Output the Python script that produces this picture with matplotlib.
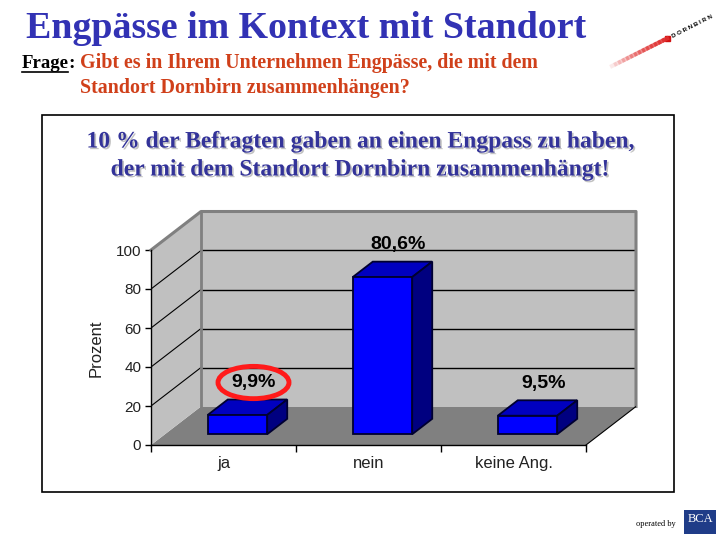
import matplotlib
matplotlib.use("Agg")
import matplotlib.pyplot as plt
import matplotlib.patheffects as pe
from matplotlib.patches import Polygon, Rectangle


categories = ["ja", "nein", "keine Ang."]
values = [9.9, 80.6, 9.5]
value_labels = ["9,9%", "80,6%", "9,5%"]
y_ticks = [0, 20, 40, 60, 80, 100]

W, H = 720, 540
PX_CAT = 145      # pixels per category on the front floor edge
PX_VAL = 1.95     # pixels per percent
DX = 50 / PX_CAT  # depth offset of the back wall, category units
DY = 38.5 / PX_VAL  # depth offset of the back wall, value units
BAR_W = 0.41
D0, D1 = 0.28, 0.68  # bar front / back depth

WALL = "#C0C0C0"
FLOOR = "#808080"
EDGE = "#808080"


def proj(x, y, d):
    """Oblique projection of a point (category, value, depth)."""
    return (x + d * DX, y + d * DY)


def px(x, y):
    """Pixel position -> figure fraction."""
    return x / W, 1 - y / H


plt.rcParams["font.family"] = ["Liberation Sans", "DejaVu Sans"]
fig = plt.figure(figsize=(W / 100, H / 100), dpi=100)

# slide header
serif = ["Liberation Serif", "DejaVu Serif"]
fig.text(*px(26, 28), "Engpässe im Kontext mit Standort", family=serif,
         fontsize=27.3, fontweight="bold", color="#3232B4", va="center")
fig.text(*px(22, 63), "Frage", family=serif, fontsize=13.5,
         fontweight="bold", color="black", va="center")
fig.add_artist(plt.Line2D([22 / W, 68 / W], [1 - 72 / H] * 2, color="black",
                          lw=1.2))
fig.text(*px(68.5, 63), ":", family=serif, fontsize=14, fontweight="bold",
         color="black", va="center")
fig.text(*px(80, 63), "Gibt es in Ihrem Unternehmen Engpässe, die mit dem",
         family=serif, fontsize=14.4, fontweight="bold", color="#D0401A",
         va="center")
fig.text(*px(80, 88), "Standort Dornbirn zusammenhängen?", family=serif,
         fontsize=14.4, fontweight="bold", color="#D0401A", va="center")

# logo top right
for i in range(14):
    t = i / 13
    x = 612 + t * 52
    y = 66 - t * 26
    fig.add_artist(plt.Line2D([x / W, (x + 3) / W],
                              [1 - y / H, 1 - (y - 1.5) / H],
                              color="#E03030", lw=3, alpha=0.1 + 0.8 * t))
fig.add_artist(Rectangle(px(665, 41), 5 / W, 5 / H, color="#D01010",
                         transform=fig.transFigure))
fig.text(*px(672, 37), "D O R N B I R N", fontsize=4.4, fontweight="bold",
         rotation=27, rotation_mode="anchor", va="center", ha="left")

# chart frame
fig.add_artist(Rectangle(px(42, 492), (674 - 42) / W, (492 - 115) / H,
                         transform=fig.transFigure, fc="white",
                         ec="black", lw=1.2, zorder=-1))

shadow = [pe.SimplePatchShadow(offset=(1.2, -1.2), shadow_rgbFace="#A8A8A8",
                               alpha=0.7), pe.Normal()]
fig.text(*px(361, 142), "10 % der Befragten gaben an einen Engpass zu haben,",
         family=serif, fontsize=17, fontweight="bold", color="#333399",
         ha="center", va="center", path_effects=shadow)
fig.text(*px(361, 170), "der mit dem Standort Dornbirn zusammenhängt!",
         family=serif, fontsize=17, fontweight="bold", color="#333399",
         ha="center", va="center", path_effects=shadow)

# 3d-looking bar chart
n = len(categories)
top = y_ticks[-1]
ax = fig.add_axes([151 / W, (H - 445) / H,
                   (n + DX) * PX_CAT / W, (top + DY) * PX_VAL / H])
ax.set_xlim(0, n + DX)
ax.set_ylim(0, top + DY)
ax.patch.set_visible(False)
for s in ax.spines.values():
    s.set_visible(False)

floor = [proj(0, 0, 0), proj(n, 0, 0), proj(n, 0, 1), proj(0, 0, 1)]
back = [proj(0, 0, 1), proj(n, 0, 1), proj(n, top, 1), proj(0, top, 1)]
left = [proj(0, 0, 0), proj(0, top, 0), proj(0, top, 1), proj(0, 0, 1)]
ax.add_patch(Polygon(floor, closed=True, fc=FLOOR, ec="none", zorder=1))
ax.add_patch(Polygon(back, closed=True, fc=WALL, ec="none", zorder=1))
ax.add_patch(Polygon(left, closed=True, fc=WALL, ec="none", zorder=1))

for v in y_ticks[1:-1]:
    bx0, by = proj(0, v, 1)
    bx1, _ = proj(n, v, 1)
    ax.plot([bx0, bx1], [by, by], color="black", lw=1, zorder=2)
    ax.plot([0, bx0], [v, by], color="black", lw=0.8, zorder=2)

rim = [proj(0, top, 0), proj(0, top, 1), proj(n, top, 1), proj(n, 0, 1)]
ax.plot(*zip(*rim), color=EDGE, lw=2.2, zorder=3, clip_on=False)
ax.plot(*zip(proj(0, 0, 1), proj(0, top, 1)), color=EDGE, lw=2, zorder=3)
ax.plot([0, 0], [0, top], color="black", lw=1, zorder=3, clip_on=False)
ax.plot([0, n], [0, 0], color="black", lw=1, zorder=3, clip_on=False)
ax.plot(*zip(proj(n, 0, 0), proj(n, 0, 1)), color="black", lw=0.8, zorder=3)

xs = [i + 0.5 for i in range(n)]
ax.bar([x - BAR_W / 2 + D0 * DX for x in xs], values, width=BAR_W,
       bottom=D0 * DY, align="edge", color="#0000FF", edgecolor="#000030",
       lw=1.3, zorder=6)
for x, v in zip(xs, values):
    xl, xr = x - BAR_W / 2, x + BAR_W / 2
    top_face = [proj(xl, v, D0), proj(xr, v, D0), proj(xr, v, D1),
                proj(xl, v, D1)]
    side_face = [proj(xr, 0, D0), proj(xr, 0, D1), proj(xr, v, D1),
                 proj(xr, v, D0)]
    ax.add_patch(Polygon(top_face, closed=True, fc="#0000C0", ec="#000030",
                         lw=1.3, zorder=5))
    ax.add_patch(Polygon(side_face, closed=True, fc="#000080", ec="#000030",
                         lw=1.3, zorder=5))

for i, (x, v, lab) in enumerate(zip(xs, values, value_labels)):
    box = None
    if i == 0:
        box = dict(boxstyle="ellipse,pad=0.15", fc="none", ec="#FF1A1A",
                   lw=3.5)
    ax.annotate(lab, xy=proj(x, v, D1), xytext=(-4, 17),
                textcoords="offset pixels", ha="center", va="center",
                fontsize=14, fontweight="bold", color="black", bbox=box,
                zorder=7, annotation_clip=False)

ax.set_yticks(y_ticks)
ax.tick_params(axis="y", direction="out", length=4, width=1, pad=3,
               labelsize=11, labelcolor="#222222")
ax.set_xticks(range(n + 1))
ax.set_xticklabels([])
ax.tick_params(axis="x", which="major", direction="out", length=5, width=1)
ax.set_xticks(xs, minor=True)
ax.set_xticklabels(categories, minor=True)
ax.tick_params(axis="x", which="minor", length=0, pad=8, labelsize=12,
               labelcolor="#222222")

fig.text(*px(96, 348), "Prozent", rotation=90, fontsize=12,
         color="#222222", ha="center", va="center")

# footer
fig.text(*px(676, 524), "operated by", family=serif, fontsize=6,
         ha="right", va="center")
fig.add_artist(Rectangle(px(684, 534), 32 / W, 24 / H, fc="#1F3C88",
                         ec="none", transform=fig.transFigure))
fig.text(*px(700, 519), "BCA", family=serif, fontsize=9, color="white",
         ha="center", va="center")

fig.savefig("out.png", dpi=100)
